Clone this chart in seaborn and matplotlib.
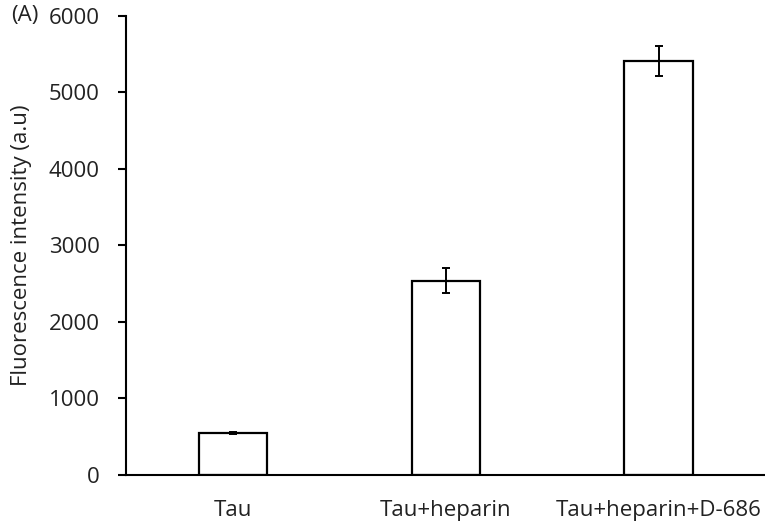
import numpy as np
import pandas as pd
import seaborn as sns
import matplotlib.pyplot as plt

# values
samples = ["Tau", "Tau+heparin", "Tau+heparin+D-686"]
intensity = [541, 2536, 5408]
err = [15, 163, 190]

df = pd.DataFrame({"sample": samples, "intensity": intensity})

sns.set_style("white")
plt.rcParams['font.family'] = ['Open Sans', 'DejaVu Sans']

fig = plt.figure(figsize=(7.65, 5.25), dpi=100)
ax = fig.add_axes([0.165, 0.096, 0.835, 0.874])

sns.barplot(data=df, x="sample", y="intensity", color="white",
            edgecolor="black", linewidth=1.6, width=0.32, ax=ax,
            errorbar=None)
ax.errorbar(np.arange(len(samples)), intensity, yerr=err, fmt="none",
            ecolor="black", elinewidth=1.4, capsize=3, capthick=1.4)

ax.set_xlim(-0.5, 2.5)
ax.set_ylim(0, 6000)
ax.set_yticks(range(0, 6001, 1000))
ax.set_xlabel("")
ax.set_ylabel("Fluorescence intensity (a.u)", fontsize=16, color="#222222", labelpad=12)

for s in ["top", "right"]:
    ax.spines[s].set_visible(False)
for s in ["left", "bottom"]:
    ax.spines[s].set_color("black")
    ax.spines[s].set_linewidth(1.5)

ax.tick_params(axis="y", which="major", left=True, direction="out", length=6,
               width=1.5, color="black", labelsize=16, labelcolor="#222222", pad=13)
ax.tick_params(axis="x", bottom=False, labelsize=16, labelcolor="#222222", pad=15)

fig.text(0.015, ax.transAxes.transform((0, 1))[1] / fig.bbox.height, "(A)",
         fontsize=16, color="#222222", va="center", ha="left")

fig.savefig("out.png", dpi=100)
